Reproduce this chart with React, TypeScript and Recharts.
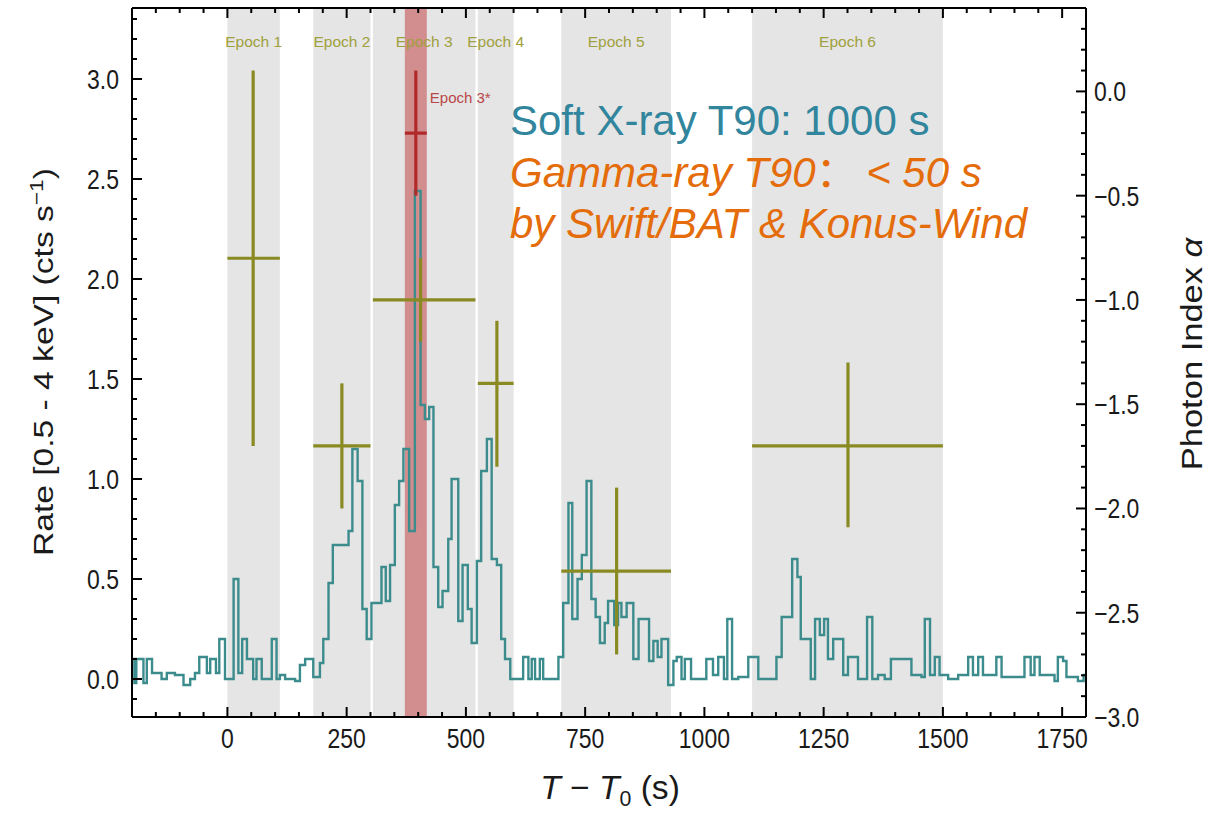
import React from "react";
import {
  ComposedChart,
  ErrorBar,
  Line,
  ReferenceArea,
  Scatter,
  XAxis,
  YAxis,
} from "recharts";

// soft X-ray light curve (0.5-4 keV): bin start time (s) and rate (cts/s)
const lcTime = [
  -200, -195, -191, -176, -169, -158, -138, -127, -110, -92, -78, -68, -59, -43, -36, -24, -17, -5,
  13, 23, 31, 41, 54, 61, 72, 93, 103, 110, 121, 142, 152, 163, 180, 194, 201, 212, 221, 254,
  262, 273, 283, 292, 302, 323, 332, 341, 351, 360, 369, 381, 393, 405, 414, 423, 432, 442,
  451, 463, 470, 484, 493, 504, 512, 523, 532, 544, 554, 565, 574, 582, 593, 620, 631, 638,
  645, 655, 662, 694, 704, 715, 723, 734, 743, 753, 763, 772, 781, 791, 798, 811, 819, 826,
  837, 851, 862, 884, 893, 902, 910, 924, 935, 942, 952, 959, 972, 1004, 1018, 1029, 1041,
  1048, 1058, 1071, 1092, 1113, 1151, 1162, 1184, 1195, 1202, 1223, 1232, 1242, 1251, 1259,
  1270, 1291, 1301, 1322, 1341, 1352, 1364, 1378, 1391, 1434, 1455, 1462, 1473, 1483, 1493,
  1511, 1532, 1553, 1563, 1574, 1584, 1612, 1623, 1671, 1684, 1692, 1703, 1734, 1741, 1752,
  1759, 1783, 1795,
];
const lcRate = [
  0.1, -0.02, 0.1, -0.02, 0.1, 0.03, 0.0, 0.03, 0.02, -0.03, 0.0, 0.03, 0.11, 0.03, 0.1, 0.03, 0.2, 0.0,
  0.5, 0.03, 0.2, 0.1, 0.0, 0.1, 0.0, 0.2, 0.0, 0.02, 0.0, -0.01, 0.07, 0.1, 0.01, 0.08, 0.2, 0.48, 0.67, 0.74,
  1.15, 0.99, 0.35, 0.2, 0.38, 0.56, 0.39, 0.57, 0.87, 0.99, 1.15, 0.74, 2.44, 1.37, 1.3, 1.36, 0.56, 0.36,
  0.44, 0.7, 1.0, 0.29, 0.57, 0.35, 0.18, 0.59, 1.04, 1.2, 0.6, 0.57, 0.2, 0.1, 0.0, 0.11, 0.0, 0.1,
  0.0, 0.1, 0.0, 0.11, 0.38, 0.88, 0.3, 0.5, 0.62, 0.99, 0.4, 0.31, 0.18, 0.28, 0.39, 0.27, 0.38, 0.31,
  0.38, 0.1, 0.3, 0.09, 0.19, 0.11, 0.2, -0.03, 0.09, 0.11, 0.0, 0.1, 0.0, 0.1, 0.02, 0.11, 0.0,
  0.3, 0.0, 0.01, 0.11, 0.0, 0.11, 0.31, 0.6, 0.51, 0.2, 0.0, 0.3, 0.22, 0.3, 0.1,
  0.2, 0.02, 0.11, 0.0, 0.31, 0.0, 0.02, 0.0, 0.1, 0.02, 0.01, 0.3, 0.02, 0.11, 0.02,
  0.0, 0.02, 0.11, 0.02, 0.11, 0.02, 0.11, 0.01, 0.11, 0.02, 0.11, 0.02, -0.01, 0.11, 0.09,
  0.01, -0.01, 0.02,
];
const lcEnd = 1800;

// spectral epochs
const epochNames = ["Epoch 1", "Epoch 2", "Epoch 3", "Epoch 4", "Epoch 5", "Epoch 6"];
const epochStart = [0, 180, 305, 525, 700, 1100];
const epochEnd = [110, 300, 520, 600, 930, 1500];
const epochMid = [54, 240, 405, 565, 816, 1301];
const epochIndex = [-0.8, -1.7, -1.0, -1.4, -2.3, -1.7];
const epochIndexErr = [
  [0.9, 0.9],
  [0.3, 0.3],
  [0.2, 0.2],
  [0.4, 0.3],
  [0.4, 0.4],
  [0.39, 0.4],
];

// Epoch 3* (flare peak)
const flareStart = 372;
const flareEnd = 418;
const flareMid = 395;
const flareIndex = -0.2;
const flareIndexErr = [0.3, 0.3];

const xTicksMajor = [0, 250, 500, 750, 1000, 1250, 1500, 1750];
const rateTicksMajor = [0, 0.5, 1, 1.5, 2, 2.5, 3];
const indexTicksMajor = [-3, -2.5, -2, -1.5, -1, -0.5, 0];

const xMinor = Array.from({ length: 41 }, (_, i) => -200 + i * 50);
const rateMinor = Array.from({ length: 35 }, (_, i) => (i - 1) / 10);
const indexMinor = Array.from({ length: 34 }, (_, i) => (i - 30) / 10);

const FONT = "'Liberation Sans', Arial, Helvetica, sans-serif";
const OLIVE = "#8a8a22";
const TEAL = "#3d8c8d";

// frame of the plot area (follows from margins + axis sizes below)
const PLOT_LEFT = 132;
const PLOT_RIGHT = 1086;
const PLOT_TOP = 8;
const PLOT_BOTTOM = 717;
const STRETCH = 1.2;

const lightCurve = [
  ...lcTime.map((t, i) => ({ t, rate: lcRate[i] })),
  { t: lcEnd, rate: lcRate[lcRate.length - 1] },
];

const epochPoints = epochMid.map((t, i) => ({
  t,
  alpha: epochIndex[i],
  tErr: [t - epochStart[i], epochEnd[i] - t],
  aErr: epochIndexErr[i],
}));

const flarePoint = [
  {
    t: flareMid,
    alpha: flareIndex,
    tErr: [flareMid - flareStart, flareEnd - flareMid],
    aErr: flareIndexErr,
  },
];

const isMajor = (v: number, list: number[]) => list.some((m) => Math.abs(m - v) < 1e-6);
const fmt = (v: number) => v.toFixed(1).replace("-", "\u2212");

function TickText({ x, y, anchor, children }: any) {
  return (
    <text
      transform={`translate(${x},${y}) scale(1,${STRETCH})`}
      textAnchor={anchor}
      fontSize={23}
      fontFamily={FONT}
      fill="#1a1a1a"
    >
      {children}
    </text>
  );
}

const tickStroke = { stroke: "#000", strokeWidth: 2 };

function BottomTick(props: any) {
  const { x, payload } = props;
  const major = isMajor(payload.value, xTicksMajor);
  const y = PLOT_BOTTOM;
  return (
    <g>
      <path d={`M${x},${y}V${y - (major ? 10 : 5)}`} {...tickStroke} />
      {major && (
        <TickText x={x} y={y + 31} anchor="middle">
          {payload.value}
        </TickText>
      )}
    </g>
  );
}

function TopTick(props: any) {
  const { x, payload } = props;
  const major = isMajor(payload.value, xTicksMajor);
  const y = PLOT_TOP;
  return <path d={`M${x},${y}V${y + (major ? 10 : 5)}`} {...tickStroke} />;
}

function LeftTick(props: any) {
  const { y, payload } = props;
  const major = isMajor(payload.value, rateTicksMajor);
  const x = PLOT_LEFT;
  return (
    <g>
      <path d={`M${x},${y}H${x + (major ? 10 : 5)}`} {...tickStroke} />
      {major && (
        <TickText x={x - 13} y={y + 10} anchor="end">
          {fmt(payload.value)}
        </TickText>
      )}
    </g>
  );
}

function RightTick(props: any) {
  const { y, payload } = props;
  const major = isMajor(payload.value, indexTicksMajor);
  const x = PLOT_RIGHT;
  return (
    <g>
      <path d={`M${x},${y}H${x - (major ? 10 : 5)}`} {...tickStroke} />
      {major && (
        <TickText x={x + 8} y={y + 10} anchor="start">
          {fmt(payload.value)}
        </TickText>
      )}
    </g>
  );
}

const NoDot = () => <g />;

function flareLabel(props: any) {
  const vb = props.viewBox;
  return (
    <text x={vb.x + vb.width + 3} y={vb.y + 95} fontSize={15} fontFamily={FONT} fill="#b8474a">
      Epoch 3*
    </text>
  );
}

export default function App() {
  return (
    <div
      style={{
        position: "absolute",
        left: 0,
        top: 0,
        width: 1218,
        height: 815,
        background: "#fff",
      }}
    >
      <ComposedChart
        width={1218}
        height={815}
        margin={{ top: 7, right: 32, bottom: 38, left: 32 }}
      >
        {epochNames.map((name, i) => (
          <ReferenceArea
            key={name}
            xAxisId="b"
            yAxisId="left"
            x1={epochStart[i]}
            x2={epochEnd[i]}
            fill="#e5e5e5"
            fillOpacity={1}
            stroke="none"
            label={{
              value: name,
              position: "insideTop",
              offset: 28,
              fill: "#a0a03c",
              fontSize: 15.5,
              fontFamily: FONT,
            }}
          />
        ))}
        <ReferenceArea
          xAxisId="b"
          yAxisId="left"
          x1={flareStart}
          x2={flareEnd}
          fill="#c03838"
          fillOpacity={0.5}
          stroke="none"
          label={flareLabel}
        />

        <XAxis
          xAxisId="b"
          dataKey="t"
          type="number"
          domain={[-200, 1800]}
          allowDataOverflow
          ticks={xMinor}
          interval={0}
          tick={BottomTick}
          height={60}
          axisLine={{ stroke: "#000", strokeWidth: 2 }}
          tickLine={false}
        />
        <XAxis
          xAxisId="top"
          orientation="top"
          dataKey="t"
          type="number"
          domain={[-200, 1800]}
          allowDataOverflow
          ticks={xMinor}
          interval={0}
          tick={TopTick}
          height={1}
          axisLine={{ stroke: "#000", strokeWidth: 2 }}
          tickLine={false}
        />
        <YAxis
          yAxisId="left"
          type="number"
          domain={[-0.19, 3.355]}
          allowDataOverflow
          ticks={rateMinor}
          interval={0}
          tick={LeftTick}
          width={100}
          axisLine={{ stroke: "#000", strokeWidth: 2 }}
          tickLine={false}
        />
        <YAxis
          yAxisId="right"
          orientation="right"
          type="number"
          domain={[-3.0, 0.4]}
          allowDataOverflow
          ticks={indexMinor}
          interval={0}
          tick={RightTick}
          width={100}
          axisLine={{ stroke: "#000", strokeWidth: 2 }}
          tickLine={false}
        />

        <Line
          xAxisId="b"
          yAxisId="left"
          data={lightCurve}
          dataKey="rate"
          type="stepAfter"
          stroke={TEAL}
          strokeWidth={2.4}
          dot={false}
          activeDot={false}
          isAnimationActive={false}
        />

        <Scatter
          xAxisId="b"
          yAxisId="right"
          data={epochPoints}
          dataKey="alpha"
          shape={NoDot}
          isAnimationActive={false}
        >
          <ErrorBar dataKey="tErr" direction="x" width={0} stroke={OLIVE} strokeWidth={3.2} />
          <ErrorBar dataKey="aErr" direction="y" width={0} stroke={OLIVE} strokeWidth={3.2} />
        </Scatter>
        <Scatter
          xAxisId="b"
          yAxisId="right"
          data={flarePoint}
          dataKey="alpha"
          shape={NoDot}
          isAnimationActive={false}
        >
          <ErrorBar dataKey="tErr" direction="x" width={0} stroke="#b02a2a" strokeWidth={3.2} />
          <ErrorBar dataKey="aErr" direction="y" width={0} stroke="#b02a2a" strokeWidth={3.2} />
        </Scatter>
      </ComposedChart>

      <svg
        width={1218}
        height={815}
        style={{ position: "absolute", left: 0, top: 0, pointerEvents: "none" }}
        fontFamily={FONT}
      >
        <text x={510} y={135} fontSize={42} fill="#31859c">
          Soft X-ray T90: 1000 s
        </text>
        <text x={510} y={187} fontSize={42} fill="#e46c0a" fontStyle="italic">
          Gamma-ray T90
          <tspan fontFamily="'Noto Sans CJK SC'" fontStyle="normal">
            {"\uFF1A"}
          </tspan>
          {"\u2009< 50 s"}
        </text>
        <text x={510} y={238} fontSize={42} fill="#e46c0a" fontStyle="italic">
          by Swift/BAT &amp; Konus-Wind
        </text>

        <text
          transform="translate(53,362) rotate(-90) scale(1.2,1)"
          textAnchor="middle"
          fontSize={28}
          fill="#1a1a1a"
        >
          Rate [0.5 - 4 keV] (cts s
          <tspan dy={-10} fontSize={19}>
            {"\u22121"}
          </tspan>
          <tspan dy={10}>)</tspan>
        </text>
        <text
          transform="translate(1202,354) rotate(-90) scale(1.15,1)"
          textAnchor="middle"
          fontSize={30}
          fill="#1a1a1a"
        >
          Photon Index <tspan fontStyle="italic">α</tspan>
        </text>
        <text
          transform="translate(610,799) scale(1.12,1.12)"
          textAnchor="middle"
          fontSize={30}
          fill="#1a1a1a"
        >
          <tspan fontStyle="italic">T</tspan>
          {" \u2212 "}
          <tspan fontStyle="italic">T</tspan>
          <tspan dy={6} fontSize={19}>
            0
          </tspan>
          <tspan dy={-6}>{" (s)"}</tspan>
        </text>
      </svg>
    </div>
  );
}
